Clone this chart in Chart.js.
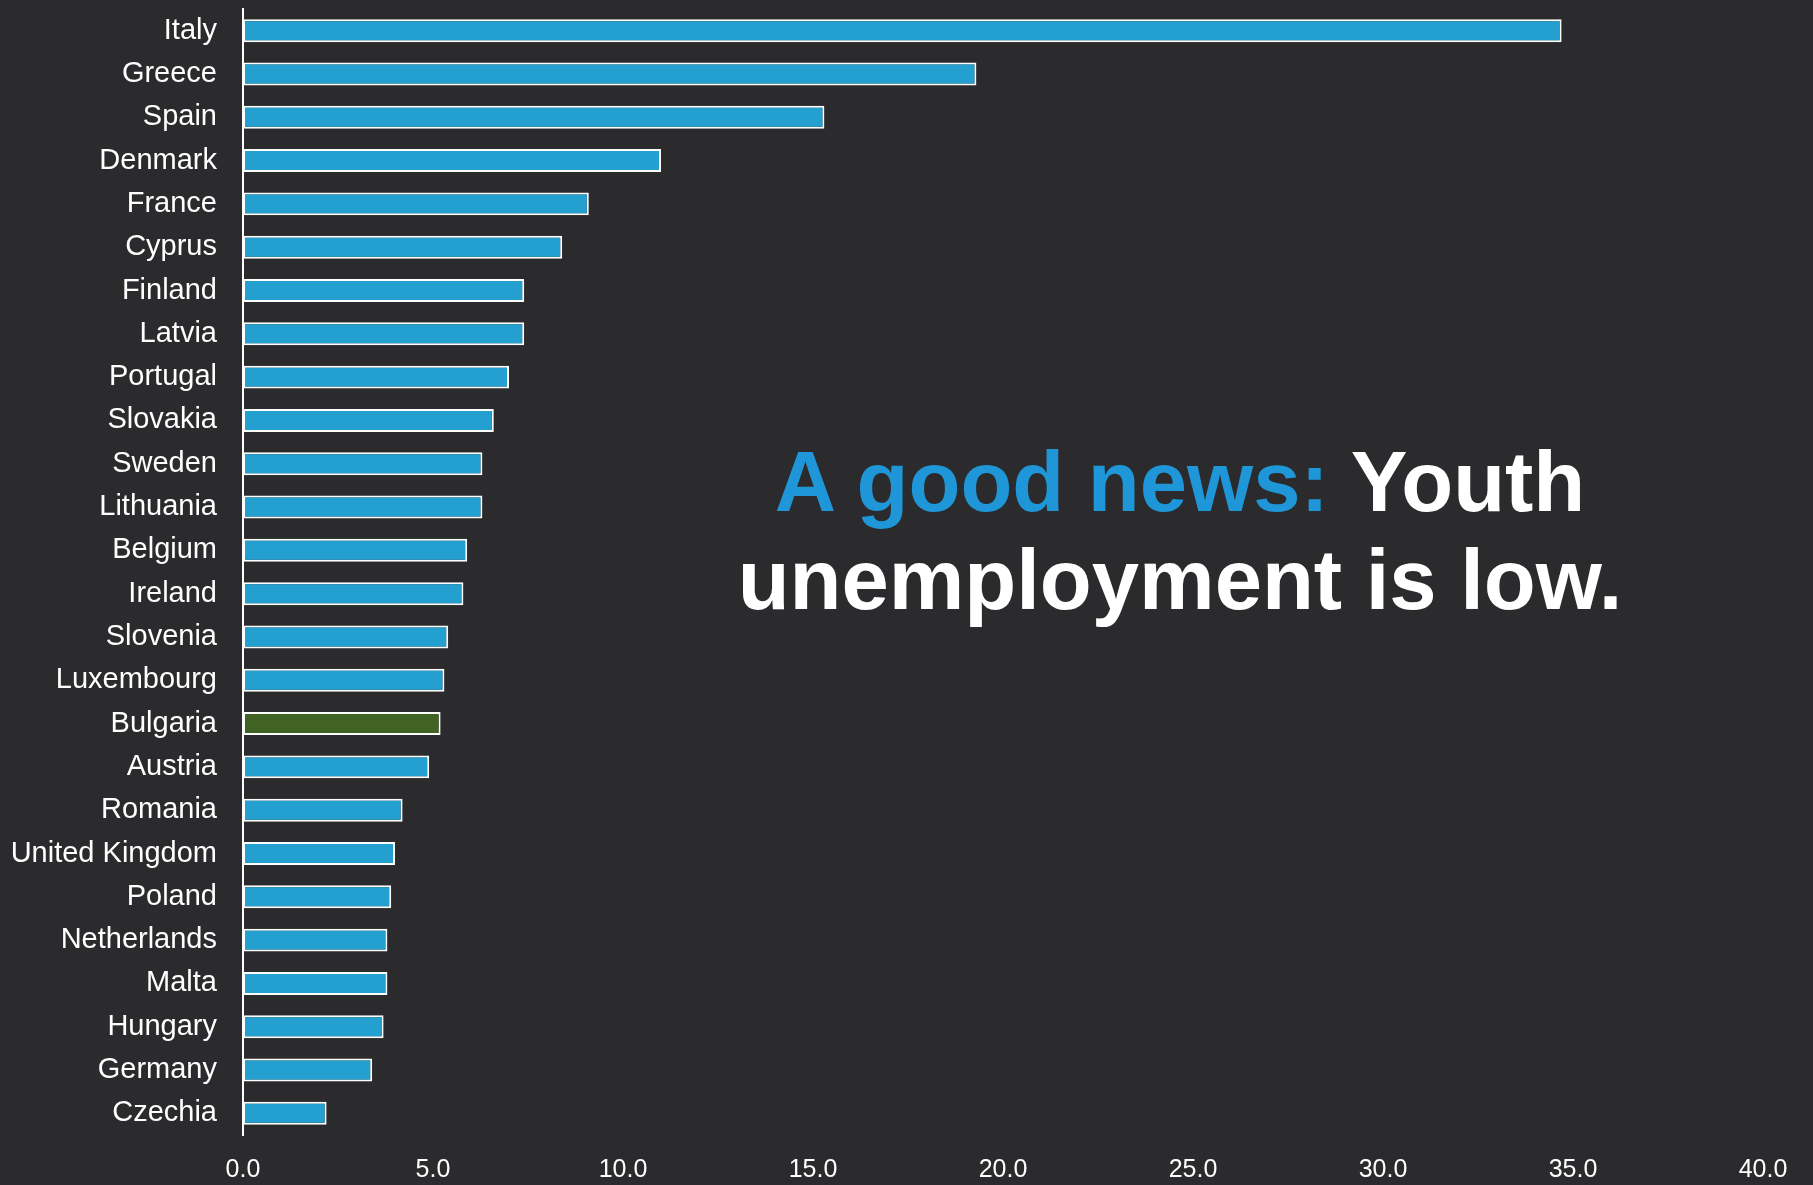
<!DOCTYPE html>
<html lang="en">
<head>
    <meta charset="UTF-8">
    <title>Youth unemployment</title>
    <script src="https://cdn.jsdelivr.net/npm/chart.js"></script>
    <style>
        body {
            margin: 0;
            background: #2b2b2e;
            font-family: 'Liberation Sans', Arial, sans-serif;
        }
        .wrap {
            position: relative;
            width: 1813px;
            height: 1185px;
        }
        .headline {
            position: absolute;
            left: 680px;
            top: 433px;
            width: 1000px;
            text-align: center;
            font-weight: bold;
            font-size: 85px;
            line-height: 98px;
            color: #ffffff;
        }
        .headline span { color: #1e96d7; }
    </style>
</head>
<body>
    <div class="wrap">
        <canvas id="barChart"></canvas>
        <div class="headline"><span>A good news:</span> Youth<br>unemployment is low.</div>
    </div>

    <script>
        const countries = ['Italy', 'Greece', 'Spain', 'Denmark', 'France', 'Cyprus', 'Finland', 'Latvia',
            'Portugal', 'Slovakia', 'Sweden', 'Lithuania', 'Belgium', 'Ireland', 'Slovenia', 'Luxembourg',
            'Bulgaria', 'Austria', 'Romania', 'United Kingdom', 'Poland', 'Netherlands', 'Malta', 'Hungary',
            'Germany', 'Czechia'];
        const rates = [34.7, 19.3, 15.3, 11.0, 9.1, 8.4, 7.4, 7.4, 7.0, 6.6, 6.3, 6.3, 5.9, 5.8, 5.4, 5.3,
            5.2, 4.9, 4.2, 4.0, 3.9, 3.8, 3.8, 3.7, 3.4, 2.2];
        const xTicks = [0, 5, 10, 15, 20, 25, 30, 35, 40];

        const blue = '#239fd0';
        const green = '#406324';

        const ctx = document.getElementById('barChart').getContext('2d');
        new Chart(ctx, {
            type: 'bar',
            data: {
                labels: countries,
                datasets: [{
                    data: rates,
                    backgroundColor: countries.map(c => c === 'Bulgaria' ? green : blue),
                    borderColor: '#ffffff',
                    borderWidth: 2,
                    borderSkipped: false,
                    barPercentage: 0.53,
                    categoryPercentage: 1
                }]
            },
            options: {
                indexAxis: 'y',
                responsive: true,
                maintainAspectRatio: false,
                animation: false,
                layout: { padding: { top: 9, right: 50, bottom: 0, left: 0 } },
                plugins: {
                    legend: { display: false },
                    tooltip: { enabled: false }
                },
                scales: {
                    x: {
                        min: 0,
                        max: 40,
                        afterBuildTicks: axis => { axis.ticks = xTicks.map(v => ({ value: v })); },
                        // chart.js reserves the tick padding twice, keep only one
                        afterFit: scale => { scale.height = 50; },
                        ticks: {
                            color: '#ffffff',
                            padding: 20,
                            maxRotation: 0,
                            font: { family: 'Liberation Sans', size: 25 },
                            callback: v => Number(v).toFixed(1)
                        },
                        grid: { display: false, drawTicks: false },
                        border: { display: false }
                    },
                    y: {
                        afterFit: scale => {
                            scale.width = 243;
                            scale.paddingTop = 0;
                            scale.paddingBottom = 0;
                        },
                        ticks: {
                            color: '#ffffff',
                            padding: 26,
                            font: { family: 'Liberation Sans', size: 29 }
                        },
                        grid: { display: false, drawTicks: false },
                        border: { display: true, color: '#ffffff', width: 2 }
                    }
                }
            }
        });
    </script>
</body>
</html>
